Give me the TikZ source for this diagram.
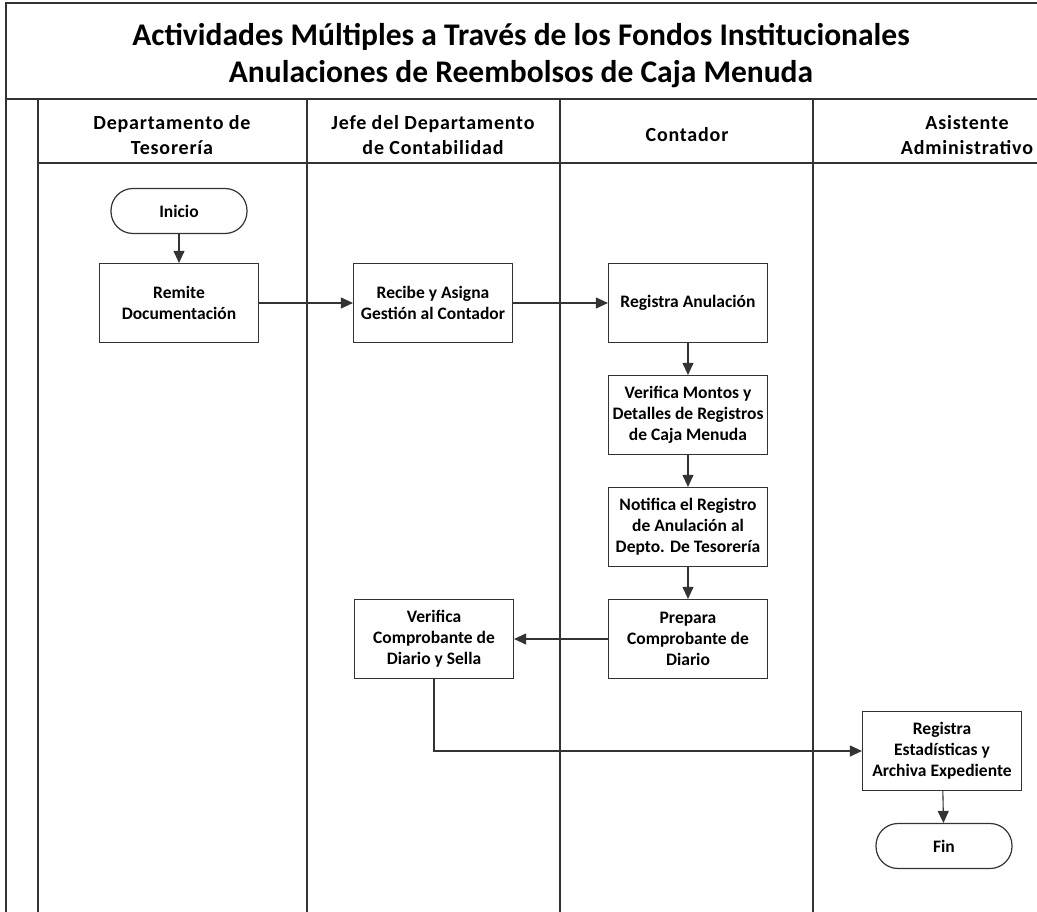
\documentclass[tikz,border=0pt]{standalone}
\usepackage{fontspec}
\setmainfont{Carlito}
\usetikzlibrary{arrows.meta}
\definecolor{ink}{HTML}{333333}
\begin{document}
\begin{tikzpicture}[x=1pt,y=-1pt,
  lane/.style={draw=ink, line width=1.1pt},
  proc/.style={draw=ink, line width=1.2pt, minimum width=159pt, minimum height=79pt,
    align=center, inner sep=2pt, font=\fontsize{17.5}{21}\selectfont\bfseries},
  term/.style={draw=ink, line width=1.2pt, rounded corners=22pt, minimum width=136pt,
    minimum height=45pt, font=\fontsize{17.5}{21}\selectfont\bfseries},
  flow/.style={draw=ink, line width=1.1pt, -{Triangle[length=12pt,width=11pt]}},
  hdr/.style={align=center, font=\fontsize{20}{25}\selectfont\bfseries\addfontfeatures{LetterSpace=4}},
  ttl/.style={align=center, font=\fontsize{31.5}{37}\selectfont\bfseries}]
\useasboundingbox (0,0) rectangle (1037,912);

% frame and swimlanes
\draw[lane] (6,912) -- (6,3) -- (1037,3);
\draw[lane] (6,99) -- (1037,99);
\draw[lane] (38,163) -- (1037,163);
\draw[lane] (38,99) -- (38,912);
\draw[lane] (307,99) -- (307,912);
\draw[lane] (560,99) -- (560,912);
\draw[lane] (813,99) -- (813,912);

% title
\node[ttl] (title) at (521,56) {Actividades Múltiples a Través de los Fondos Institucionales\\Anulaciones de Reembolsos de Caja Menuda};

% lane headers
\node[hdr] (h1) at (172,135) {Departamento de\\Tesorería};
\node[hdr] (h2) at (433,135) {Jefe del Departamento\\de Contabilidad};
\node[hdr] (h3) at (687,135) {Contador};
\node[hdr] (h4) at (967,135) {Asistente\\Administrativo};

% process steps
\node[term] (ini) at (179,211) {Inicio};
\node[proc] (rem) at (179,303) {Remite\\Documentación};
\node[proc] (rec) at (433,303) {Recibe y Asigna\\Gestión al Contador};
\node[proc] (ran) at (688,303) {Registra Anulación};
\node[proc] (vmo) at (688,415) {Verifica Montos y\\Detalles de Registros\\de Caja Menuda};
\node[proc] (not) at (688,527) {Notifica el Registro\\de Anulación al\\Depto. De Tesorería};
\node[proc] (pre) at (688,639) {Prepara\\Comprobante de\\Diario};
\node[proc] (vco) at (434,639) {Verifica\\Comprobante de\\Diario y Sella};
\node[proc] (res) at (942,751) {Registra\\Estadísticas y\\Archiva Expediente};
\node[term] (fin) at (944,846) {Fin};

% connectors
\draw[flow] (ini) -- (rem);
\draw[flow] (rem) -- (rec);
\draw[flow] (rec) -- (ran);
\draw[flow] (ran) -- (vmo);
\draw[flow] (vmo) -- (not);
\draw[flow] (not) -- (pre);
\draw[flow] (pre) -- (vco);
\draw[flow] (vco.south) |- (res.west);
\draw[flow] (res) -- (fin);
\end{tikzpicture}
\end{document}
